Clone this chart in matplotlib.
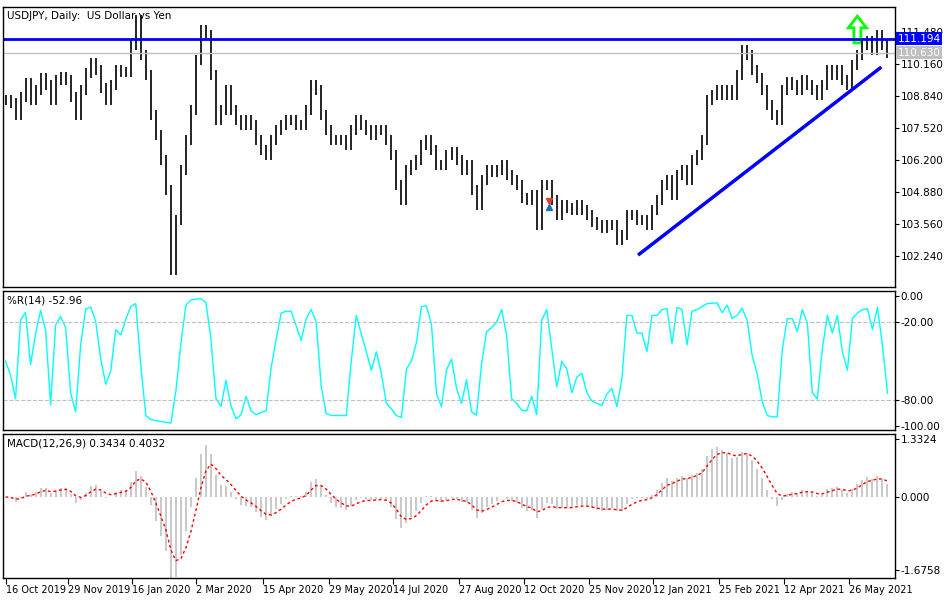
import numpy as np
import matplotlib.pyplot as plt
from matplotlib.patches import Polygon

# daily closes (one entry per plotted bar)
closes = [108.67, 108.55, 108.06, 108.80, 109.38, 108.67, 109.09, 109.58, 109.29, 108.67,
          109.50, 109.62, 109.50, 108.80, 108.06, 109.09, 109.79, 110.20, 109.91, 109.17,
          108.67, 109.29, 109.91, 109.83, 109.83, 110.94, 111.98, 110.53, 109.71, 108.06,
          107.23, 106.20, 104.96, 101.66, 103.73, 105.79, 107.03, 108.26, 110.32, 111.56,
          111.36, 109.71, 107.85, 108.26, 109.09, 108.26, 107.85, 107.64, 107.85, 107.64,
          107.03, 106.61, 106.41, 107.03, 107.44, 107.64, 107.85, 107.85, 107.64, 107.64,
          108.26, 109.29, 109.09, 108.06, 107.44, 107.03, 107.03, 107.03, 106.82, 107.44,
          107.85, 107.64, 107.44, 107.23, 107.44, 107.44, 107.03, 106.41, 105.17, 104.55,
          105.79, 105.99, 106.20, 106.82, 107.03, 106.61, 105.99, 105.99, 106.41, 106.53,
          106.20, 105.79, 105.99, 104.96, 104.34, 105.38, 105.79, 105.70, 105.79, 105.99,
          105.58, 105.38, 105.17, 104.63, 104.55, 104.76, 103.52, 105.17, 105.17, 104.55,
          103.93, 104.34, 104.22, 104.14, 104.34, 104.14, 103.93, 103.64, 103.52, 103.40,
          103.52, 103.52, 102.90, 103.11, 103.93, 103.93, 103.73, 103.73, 103.52, 104.14,
          104.55, 105.17, 105.38, 104.76, 105.58, 105.79, 105.38, 106.20, 106.41, 107.03,
          108.67, 108.88, 109.09, 108.88, 109.09, 108.88, 109.71, 110.74, 110.53, 109.91,
          109.58, 109.09, 108.47, 108.06, 107.85, 109.09, 109.42, 109.29, 109.09, 109.50,
          109.29, 109.09, 108.88, 109.29, 109.91, 109.71, 109.91, 109.50, 109.29, 110.12,
          110.53, 110.94, 111.10, 110.74, 111.36, 110.94, 110.63]
date_labels = ['16 Oct 2019', '29 Nov 2019', '16 Jan 2020', '2 Mar 2020', '15 Apr 2020',
               '29 May 2020', '14 Jul 2020', '27 Aug 2020', '12 Oct 2020', '25 Nov 2020',
               '12 Jan 2021', '25 Feb 2021', '12 Apr 2021', '26 May 2021']
date_pos = [0, 12.4, 25.3, 38.1, 51.3, 64.6, 77.4, 90.4, 103.5, 116.5, 129.3, 142.4, 155.4, 168.4]
price_ticks = [102.24, 103.56, 104.88, 106.20, 107.52, 108.84, 110.16, 111.48]
resistance = 111.194
last_price = 110.630
trend = [(126.5, 102.32), (174.5, 109.99)]

c = np.array(closes)
n = len(c)
o = np.r_[c[0], c[:-1]]
wick = 0.22
hi = np.maximum(o, c) + wick
lo = np.minimum(o, c) - wick
idx = np.arange(n)

# Williams %R and MACD (periods scaled to the plotted bar count)
p = 6
wr = np.array([(max(hi[max(0, i-p+1):i+1]) - c[i]) / (max(hi[max(0, i-p+1):i+1]) - min(lo[max(0, i-p+1):i+1])) * -100 for i in range(n)])

def ema(x, span):
    a = 2 / (span + 1)
    out = np.empty_like(x)
    out[0] = x[0]
    for i in range(1, len(x)):
        out[i] = a * x[i] + (1 - a) * out[i-1]
    return out

macd = ema(c, 5) - ema(c, 11)
sig = ema(macd, 4)

plt.rcParams['font.family'] = 'DejaVu Sans'
fig = plt.figure(figsize=(9.5, 6), dpi=100)
L, W = 3/950, 892/950
ax1 = fig.add_axes([L, 1-287/600, W, 280/600])
ax2 = fig.add_axes([L, 1-430/600, W, 139/600])
ax3 = fig.add_axes([L, 1-578/600, W, 144/600])
xl = (-0.5, n + 0.5)
for ax in (ax1, ax2, ax3):
    ax.set_xlim(*xl)
    ax.yaxis.tick_right()
    ax.tick_params(axis='y', labelsize=7.5, length=3, pad=1)
    ax.tick_params(axis='x', bottom=False, labelbottom=False)
    for s in ax.spines.values():
        s.set_linewidth(1)

# price panel
ax1.vlines(idx, lo, hi, color='black', lw=1.2)
ax1.axhline(resistance, color='#0000ff', lw=2)
ax1.axhline(last_price, color='#c0c0c0', lw=1)
ax1.plot([trend[0][0], trend[1][0]], [trend[0][1], trend[1][1]], color='#0000ff', lw=2.5)
ax1.set_ylim(100.96, 112.51)
ax1.set_yticks(price_ticks)
ax1.set_yticklabels([f'{v:.3f}' for v in price_ticks])
ax1.text(0.005, 0.985, 'USDJPY, Daily:  US Dollar vs Yen', transform=ax1.transAxes, fontsize=7.5, va='top')
ax_, ay = 170.0, 111.03
arrow = [(ax_-0.7, ay), (ax_+0.7, ay), (ax_+0.7, ay+0.62), (ax_+1.8, ay+0.62),
         (ax_, ay+1.1), (ax_-1.8, ay+0.62), (ax_-0.7, ay+0.62)]
ax1.add_patch(Polygon(arrow, closed=True, fc='white', ec='#00ff00', lw=2))
ax1.plot(108.5, 104.5, marker='v', color='#e0402a', ms=5)
ax1.plot(108.5, 104.25, marker='^', color='#1f6fb0', ms=5)
for val, bg, fg in ((resistance, '#0000ff', 'white'), (last_price, '#c0c0c0', 'white')):
    ax1.text(1.003, val, f'{val:.3f}', transform=ax1.get_yaxis_transform(), fontsize=7.5,
             va='center', ha='left', color=fg,
             bbox=dict(boxstyle='square,pad=0.15', fc=bg, ec='none'))

# Williams %R panel
ax2.plot(idx, wr, color='#00ffff', lw=1)
ax2.axhline(-20, color='#c0c0c0', lw=0.8, ls='--')
ax2.axhline(-80, color='#c0c0c0', lw=0.8, ls='--')
ax2.set_ylim(-103, 3.8)
ax2.set_yticks([0, -20, -80, -100])
ax2.set_yticklabels(['0.00', '-20.00', '-80.00', '-100.00'])
ax2.text(0.005, 0.97, '%R(14) -52.96', transform=ax2.transAxes, fontsize=7.5, va='top')

# MACD panel
ax3.vlines(idx, 0, macd, color='#c0c0c0', lw=1.2)
ax3.plot(idx, sig, color='red', lw=1, ls=(0, (2, 2)))
ax3.set_ylim(-1.862, 1.447)
ax3.set_yticks([1.3324, 0, -1.6758])
ax3.set_yticklabels(['1.3324', '0.000', '-1.6758'])
ax3.text(0.005, 0.97, 'MACD(12,26,9) 0.3434 0.4032', transform=ax3.transAxes, fontsize=7.5, va='top')
ax3.set_xticks(date_pos)
ax3.set_xticklabels(date_labels, fontsize=7, ha='left')
ax3.tick_params(axis='x', bottom=True, labelbottom=True, length=4, pad=1)

fig.savefig('out.png', dpi=100)
